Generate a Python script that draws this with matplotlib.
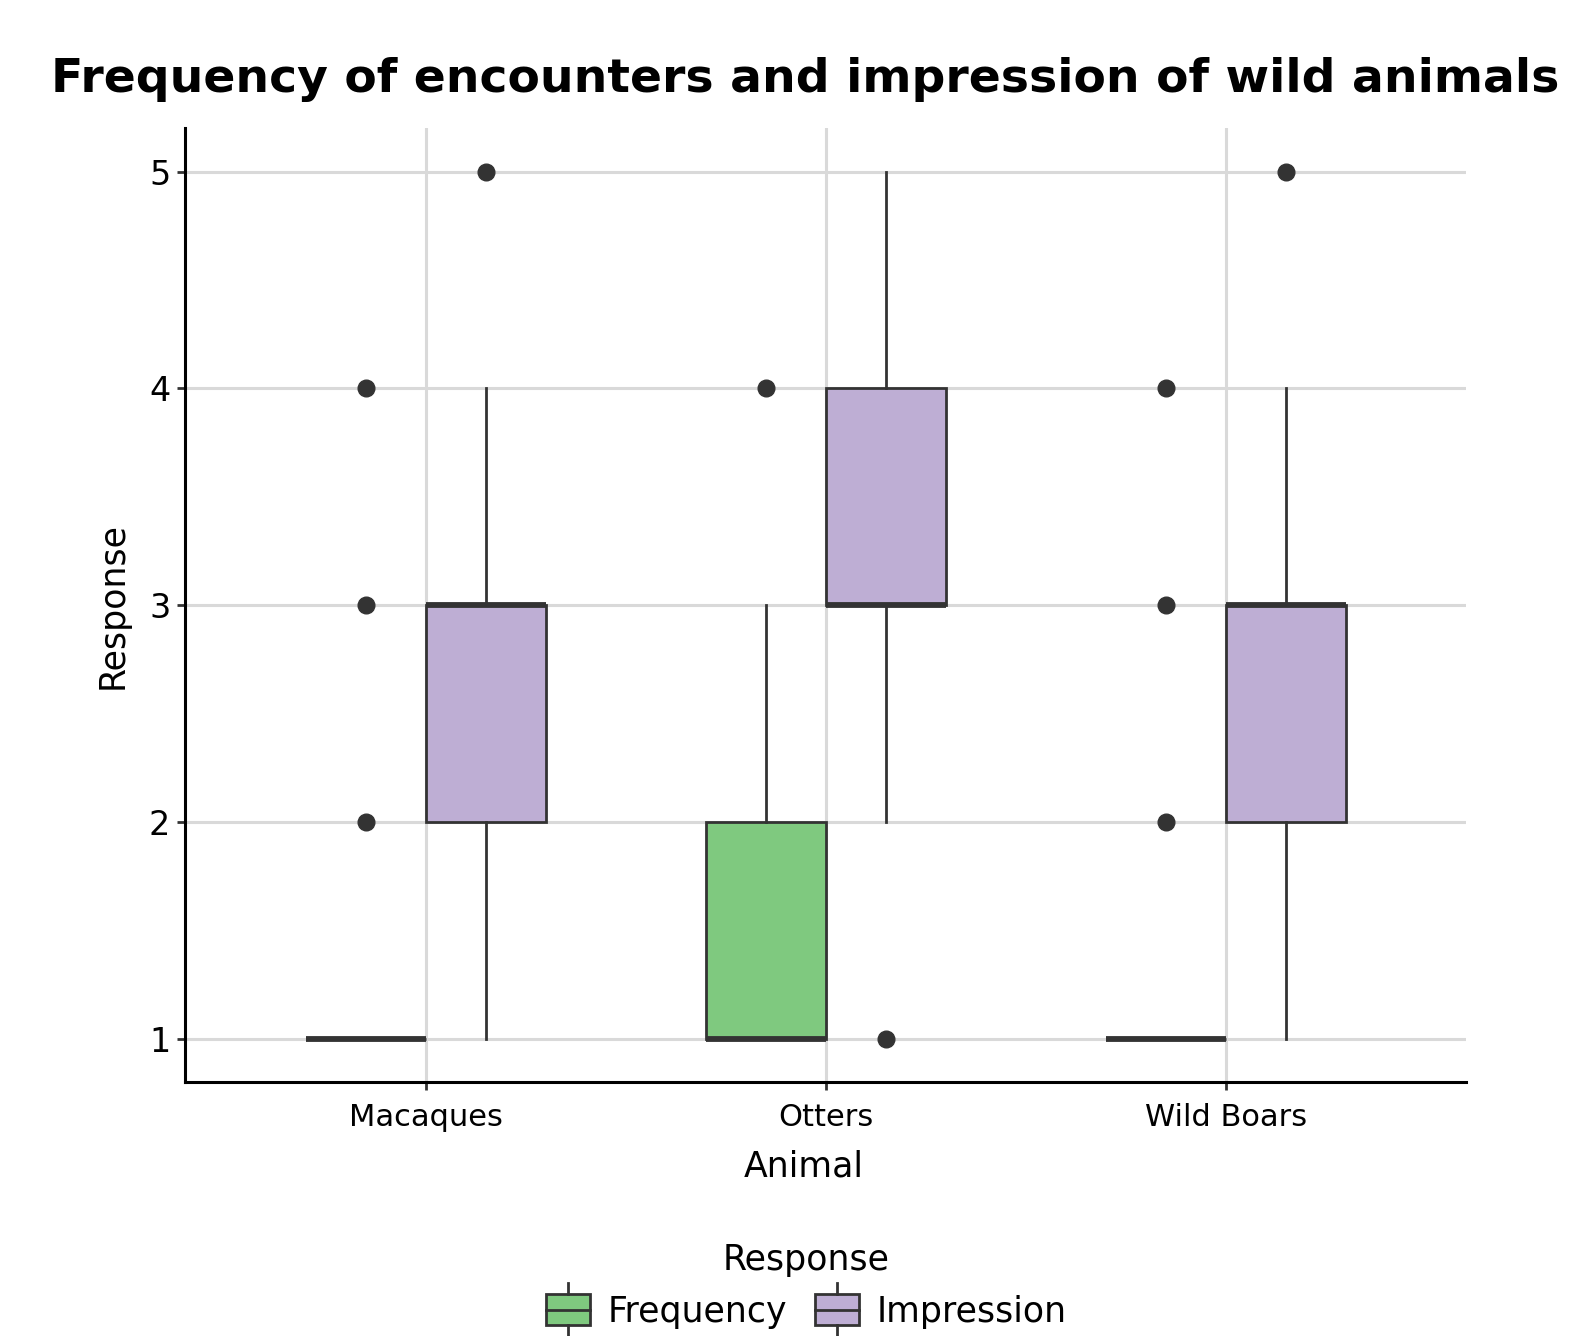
import matplotlib.pyplot as plt
from matplotlib.patches import Patch, Rectangle
from matplotlib.lines import Line2D
from matplotlib.legend_handler import HandlerBase

# summary stats
animals = ['Macaques', 'Otters', 'Wild Boars']
groups = ['Frequency', 'Impression']
colors = {'Frequency': '#7FC97F', 'Impression': '#BEAED4'}

freq_q1 = [1, 1, 1]
freq_med = [1, 1, 1]
freq_q3 = [1, 2, 1]
freq_lo = [1, 1, 1]
freq_hi = [1, 3, 1]
freq_fliers = [[2, 3, 4], [4], [2, 3, 4]]

imp_q1 = [2, 3, 2]
imp_med = [3, 3, 3]
imp_q3 = [3, 4, 3]
imp_lo = [1, 2, 1]
imp_hi = [4, 5, 4]
imp_fliers = [[5], [1], [5]]

plt.rcParams['font.family'] = ['DejaVu Sans']
EDGE = '#333333'


def make_stats(q1, med, q3, lo, hi, fl):
    return [dict(q1=a, med=b, q3=c, whislo=d, whishi=e, fliers=f)
            for a, b, c, d, e, f in zip(q1, med, q3, lo, hi, fl)]


class BoxHandler(HandlerBase):
    def create_artists(self, legend, orig_handle, xdescent, ydescent,
                       width, height, fontsize, trans):
        fc = orig_handle.get_facecolor()
        x0, y0 = -xdescent, -ydescent
        h = height
        rect = Rectangle((x0, y0), width, h, facecolor=fc, edgecolor=EDGE,
                         lw=2, transform=trans)
        mid = Line2D([x0, x0 + width], [y0 + h / 2] * 2, color=EDGE, lw=2, transform=trans)
        top = Line2D([x0 + width / 2] * 2, [y0 + h, y0 + h + 0.35 * h], color=EDGE, lw=2, transform=trans)
        bot = Line2D([x0 + width / 2] * 2, [y0, y0 - 0.35 * h], color=EDGE, lw=2, transform=trans)
        return [rect, mid, top, bot]


fig = plt.figure(figsize=(15.72, 13.36), dpi=100)
ax = fig.add_axes([0.118, 0.19, 0.8144, 0.714])

pos = list(range(1, len(animals) + 1))
series = {
    'Frequency': make_stats(freq_q1, freq_med, freq_q3, freq_lo, freq_hi, freq_fliers),
    'Impression': make_stats(imp_q1, imp_med, imp_q3, imp_lo, imp_hi, imp_fliers),
}
offsets = {'Frequency': -0.15, 'Impression': 0.15}

for g in groups:
    ax.bxp(series[g], positions=[p + offsets[g] for p in pos], widths=0.3,
           patch_artist=True, showcaps=False,
           boxprops=dict(facecolor=colors[g], edgecolor=EDGE, linewidth=2),
           medianprops=dict(color=EDGE, linewidth=4.2, solid_capstyle='butt'),
           whiskerprops=dict(color=EDGE, linewidth=2),
           flierprops=dict(marker='o', markerfacecolor=EDGE, markeredgecolor=EDGE,
                           markersize=12),
           zorder=3)

ax.set_xlim(0.4, 3.6)
ax.set_ylim(0.8, 5.2)
ax.set_xticks(pos)
ax.set_xticklabels(animals)
ax.set_yticks([1, 2, 3, 4, 5])
ax.grid(True, color='#d9d9d9', linewidth=2.2, zorder=0)
ax.set_axisbelow(True)
for s in ['top', 'right']:
    ax.spines[s].set_visible(False)
for s in ['left', 'bottom']:
    ax.spines[s].set_linewidth(2.2)
    ax.spines[s].set_color('black')
ax.tick_params(axis='both', length=6, width=2, color=EDGE,
               labelcolor='black', pad=5)
ax.tick_params(axis='x', labelsize=22, pad=9)
ax.tick_params(axis='y', labelsize=24)
ax.set_xlabel('Animal', fontsize=25)
ax.xaxis.set_label_coords(0.483, -0.071)
ax.set_ylabel('Response', fontsize=25, labelpad=14)

fig.suptitle('Frequency of encounters and impression of wild animals',
             fontsize=34, fontweight='bold', x=0.512, y=0.957)

handles = [Patch(facecolor=colors[g], edgecolor=EDGE, label=g) for g in groups]
fig.legend(handles=handles, labels=groups, title='Response', ncol=2,
           loc='lower center', bbox_to_anchor=(0.513, -0.018), frameon=False,
           fontsize=25, title_fontsize=25, handler_map={Patch: BoxHandler()},
           handlelength=1.27, handleheight=1.0, columnspacing=0.8, handletextpad=0.5)

fig.savefig('out.png', dpi=100)
